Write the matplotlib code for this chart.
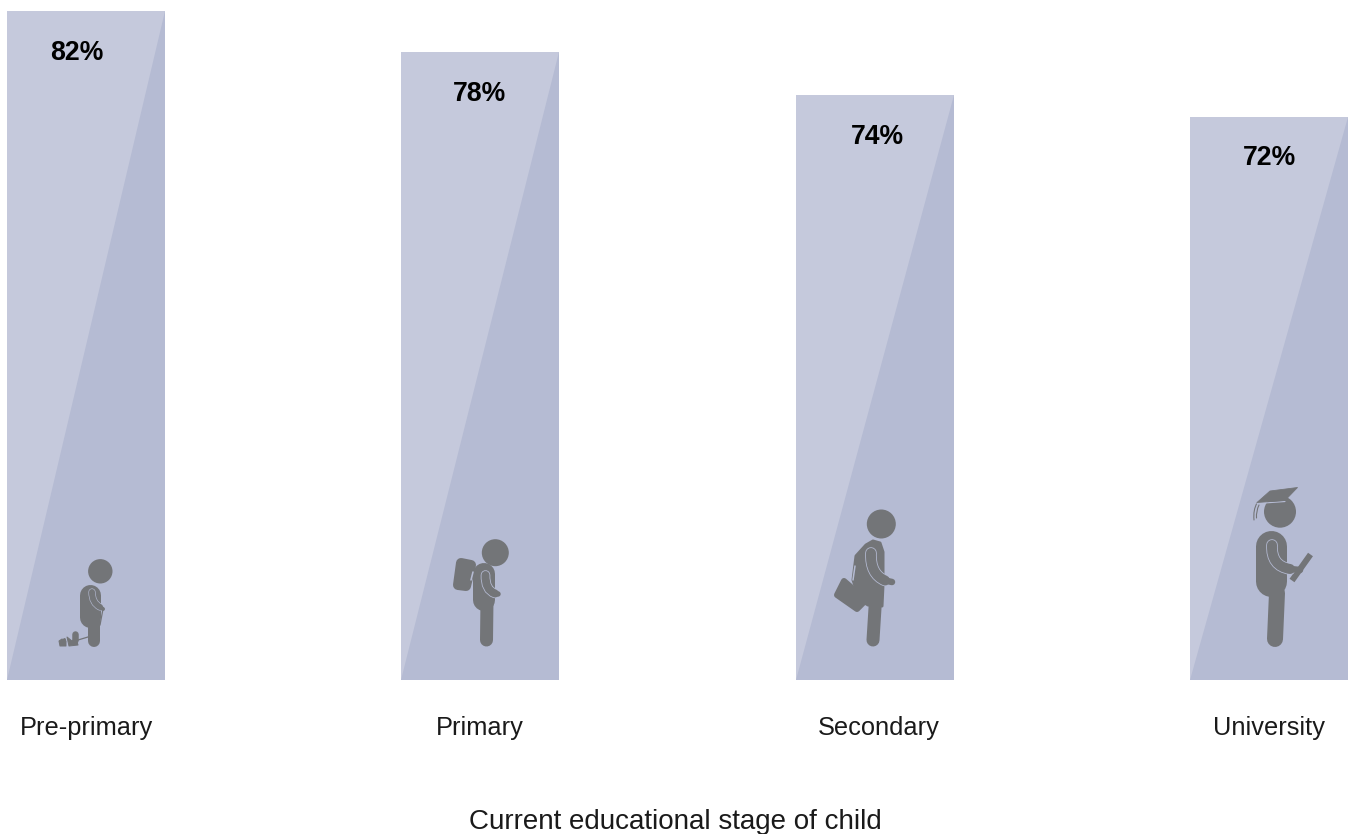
import matplotlib
matplotlib.use("Agg")
import matplotlib.pyplot as plt
from matplotlib.patches import Circle, Polygon
from matplotlib.path import Path
from matplotlib.patches import PathPatch

categories = ["Pre-primary", "Primary", "Secondary", "University"]
value_labels = ["82%", "78%", "74%", "72%"]
bar_heights = [82, 77, 71.7, 69]   # drawn height

LIGHT, DARK, GREY = "#C5C9DC", "#B5BBD3", "#737578"
W, H = 1354, 834
PX_PER_UNIT = 8.16
BASE_PX = 680
plt.rcParams["font.family"] = ["Liberation Sans", "DejaVu Sans"]

fig = plt.figure(figsize=(W / 100, H / 100), dpi=100, facecolor="white")
ax = fig.add_axes([0, 0, 1, 1])
ax.set_xlim(0, W)
ax.set_ylim(-(H - BASE_PX) / PX_PER_UNIT, BASE_PX / PX_PER_UNIT)
ax.axis("off")

centers = [86, 480, 875, 1269]
width = 158
ax.bar(centers, bar_heights, width=width, color=DARK, linewidth=0, zorder=1)
for c, h in zip(centers, bar_heights):
    ax.fill([c - width / 2, c - width / 2, c + width / 2], [0, h, h],
            color=LIGHT, linewidth=0, zorder=2)

# overlay in pixel coordinates for the pictograms and text
ov = fig.add_axes([0, 0, 1, 1], facecolor="none")
ov.set_xlim(0, W)
ov.set_ylim(H, 0)
ov.axis("off")

PT = 0.72


def stroke(pts, w, color=GREY, z=5, cap="round"):
    ov.plot([p[0] for p in pts], [p[1] for p in pts], color=color, lw=w * PT,
            solid_capstyle=cap, solid_joinstyle="round", zorder=z)


def curve(pts, w, color=GREY, z=5, cap="round"):
    codes = [Path.MOVETO] + [Path.CURVE3] * (len(pts) - 1)
    if len(pts) == 4:
        codes = [Path.MOVETO] + [Path.CURVE4] * 3
    ov.add_patch(PathPatch(Path(pts, codes), fill=False, edgecolor=color,
                           lw=w * PT, capstyle=cap, zorder=z))


def head(x, y, r):
    ov.add_patch(Circle((x, y), r, facecolor=GREY, edgecolor="none", zorder=5))


def blob(pts, round_px=4, z=5, color=GREY):
    ov.add_patch(Polygon(pts, closed=True, facecolor=color, edgecolor=color,
                         lw=round_px * PT, joinstyle="round", zorder=z))


def arm(pts, end, w, end_w, line=0.8):
    curve(pts, w + 2 * line, color=DARK, z=6)
    curve(pts, w, z=7)
    stroke([pts[-1], end], end_w, z=7)


# Pre-primary
head(100.3, 571.3, 12.2)
stroke([(89.5, 595), (89.5, 617)], 21)
stroke([(94, 622), (94, 641)], 12)
arm([(92, 592), (92, 603), (100, 607)], (103, 609), 6, 4, line=0.6)
ov.plot([103, 100, 88, 78], [609, 625, 637, 640], color=GREY, lw=0.9, zorder=5)
blob([(59, 641), (62, 639), (66, 641), (66, 646), (60, 646)], 1)
stroke([(64, 638.5), (64, 641)], 3)
blob([(67, 637), (72, 641), (76, 638), (78, 645), (69, 646)], 1)
stroke([(75, 634), (75, 640)], 6.5)

# Primary
head(495.3, 552.7, 13.5)
blob([(461, 563), (471, 565), (466, 586), (458, 585)], 10)
stroke([(484, 574), (484, 600)], 22)
stroke([(487, 600), (486.5, 640)], 13)
stroke([(473, 572), (471, 580)], 1.6, color=DARK, z=6)
arm([(485.5, 575), (485, 590), (495, 593.5)], (498, 594), 8, 5.5)

# Secondary
head(881.3, 524, 14.5)
blob([(853, 580), (856, 556), (866, 545), (873, 541), (880, 543), (883, 552),
      (883, 585), (882, 606), (868, 605), (860, 600)], 3)
stroke([(875.5, 600), (873, 640)], 13)
blob([(844, 581), (866, 600), (857, 609), (837, 595)], 6, z=6)
stroke([(853, 580), (855, 566)], 1.5, color=DARK, z=6)
arm([(871, 553), (870, 574), (885, 580.5)], (892, 582), 10, 6.5)

# University
head(1280, 511.7, 16)
blob([(1257, 502.5), (1270, 491), (1297.5, 487.5), (1285, 500.5)], 0.8, z=8)
stroke([(1257, 503.5), (1285, 501.5)], 1.2, color=DARK, z=7)
curve([(1257, 503), (1253, 510), (1254, 520)], 1.1)
curve([(1259, 505), (1256, 511), (1256.5, 518)], 1.1)
stroke([(1271, 546), (1271, 581)], 31)
stroke([(1277, 593), (1275, 639)], 16)
stroke([(1310.5, 554.5), (1292, 580.5)], 6, cap="butt", z=5)
arm([(1272, 545), (1271, 566), (1290, 569)], (1300, 570), 10, 6.5)

# text
label_x = [86, 480, 879, 1269]
pct_x = [77, 480, 877, 1269]
pct_y = [53, 94, 137, 158]
for x, y, s in zip(pct_x, pct_y, value_labels):
    ov.text(x, y, s, ha="center", va="center", fontsize=19.2, fontweight="bold",
            color="black", zorder=9)
for x, s in zip(label_x, categories):
    ov.text(x, 728, s, ha="center", va="center", fontsize=18.3, color="#1a1a1a", zorder=9)
ov.text(675, 822, "Current educational stage of child", ha="center", va="center",
        fontsize=20, color="#1a1a1a", zorder=9)

fig.savefig("out.png", dpi=100, facecolor="white")
